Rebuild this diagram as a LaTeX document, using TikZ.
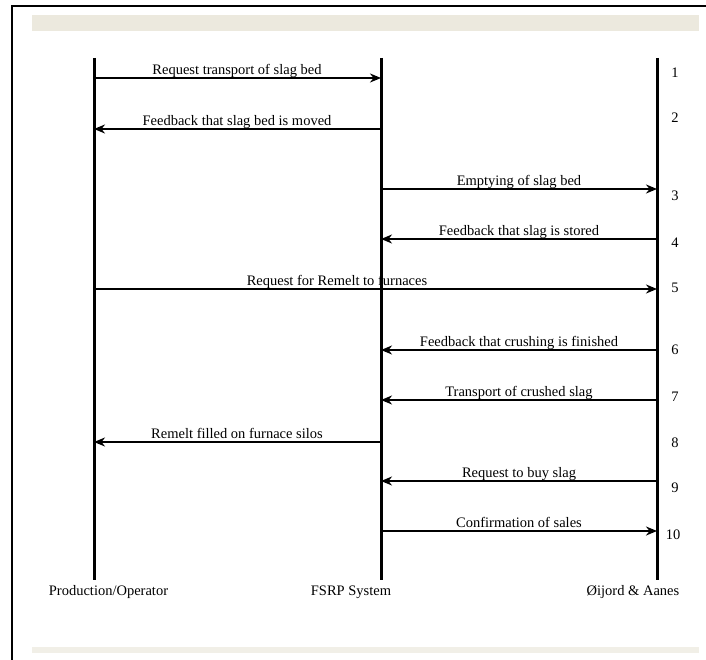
\documentclass[tikz,border=0pt]{standalone}
\usepackage{fontspec}
\setmainfont{Liberation Serif}
\usetikzlibrary{arrows.meta}
\definecolor{barA}{RGB}{236,233,222}
\definecolor{barB}{RGB}{241,239,231}
\begin{document}
\begin{tikzpicture}[x=1pt,y=-1pt,
  lifeline/.style={line width=3pt},
  msg/.style={line width=2pt,-{Stealth[length=11pt,width=9pt,inset=3.5pt]}},
  msglabel/.style={anchor=base,inner sep=0pt,font=\fontsize{14.5}{16}\selectfont},
  numlabel/.style={anchor=center,inner sep=0pt,font=\fontsize{14.5}{16}\selectfont},
  actor/.style={anchor=center,inner sep=0pt,font=\fontsize{14.5}{16}\selectfont}]
\useasboundingbox (0,0) rectangle (706,660);
% frame and bars
\draw[line width=2.5pt] (12,662) -- (12,6) -- (708,6);
\fill[barA] (32,15) rectangle (699,31);
\fill[barB] (32,647) rectangle (699,653);
% lifelines
\coordinate (pT) at (94,58);  \coordinate (pB) at (94,580);
\coordinate (sT) at (381,58); \coordinate (sB) at (381,580);
\coordinate (oT) at (657,58); \coordinate (oB) at (657,580);
\draw[lifeline] (pT) -- (pB);
\draw[lifeline] (sT) -- (sB);
\draw[lifeline] (oT) -- (oB);
% message anchor points
\foreach \n/\y in {1/78,2/129,3/189,4/239,5/289,6/350,7/400,8/442,9/481,10/531}{
  \coordinate (p\n) at (94,\y);
  \coordinate (s\n) at (381,\y);
  \coordinate (o\n) at (657,\y);
}
% messages
\draw[msg] (p1) -- (s1);
\draw[msg] (s2) -- (p2);
\draw[msg] (s3) -- (o3);
\draw[msg] (o4) -- (s4);
\draw[msg] (p5) -- (o5);
\draw[msg] (o6) -- (s6);
\draw[msg] (o7) -- (s7);
\draw[msg] (s8) -- (p8);
\draw[msg] (o9) -- (s9);
\draw[msg] (s10) -- (o10);
% message labels
\node[msglabel] (l1) at (237,74.5) {Request transport of slag bed};
\node[msglabel] (l2) at (237,125.5) {Feedback that slag bed is moved};
\node[msglabel] (l3) at (519,185.5) {Emptying of slag bed};
\node[msglabel] (l4) at (519,235.5) {Feedback that slag is stored};
\node[msglabel] (l5) at (337,285.5) {Request for Remelt to furnaces};
\node[msglabel] (l6) at (519,346.5) {Feedback that crushing is finished};
\node[msglabel] (l7) at (519,396.5) {Transport of crushed slag};
\node[msglabel] (l8) at (237,438.5) {Remelt filled on furnace silos};
\node[msglabel] (l9) at (519,477.5) {Request to buy slag};
\node[msglabel] (l10) at (519,527.5) {Confirmation of sales};
% step numbers
\node[numlabel] (n1) at (675,73) {1};
\node[numlabel] (n2) at (675,118) {2};
\node[numlabel] (n3) at (675,196) {3};
\node[numlabel] (n4) at (675,243) {4};
\node[numlabel] (n5) at (675,288) {5};
\node[numlabel] (n6) at (675,350) {6};
\node[numlabel] (n7) at (675,397) {7};
\node[numlabel] (n8) at (675,443) {8};
\node[numlabel] (n9) at (675,488) {9};
\node[numlabel] (n10) at (673,535) {10};
% actors
\node[actor] (ap) at (108.5,592) {Production/Operator};
\node[actor] (as) at (351,592) {FSRP System};
\node[actor] (ao) at (633,592) {Øijord \& Aanes};
\end{tikzpicture}
\end{document}
